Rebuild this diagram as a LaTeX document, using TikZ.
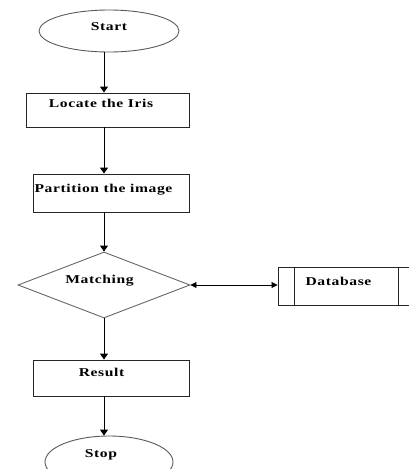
\documentclass[tikz,border=0pt]{standalone}
\usepackage{fontspec}
\setmainfont{Liberation Serif}[FakeStretch=1.3,LetterSpace=5]
\usetikzlibrary{arrows.meta,shapes.geometric}
\tikzset{
  base/.style={draw=black!85, line width=0.9pt, inner sep=0pt, font=\fontsize{12}{14}\selectfont\bfseries},
  term/.style={base, ellipse, draw=black!65},
  proc/.style={base, rectangle},
  decide/.style={base, diamond, aspect=2.6, draw=black!60},
  store/.style={base, rectangle},
  nudge/.style={execute at begin node={\hspace*{#1}}},
  flow/.style={-{Triangle[length=6pt,width=8pt]}, line width=0.9pt},
  both/.style={{Triangle[length=6pt,width=6pt]}-{Triangle[length=6pt,width=6pt]}, line width=0.8pt}
}
\begin{document}
\begin{tikzpicture}[x=1pt, y=1pt]
  \useasboundingbox (0,0) rectangle (409,-469);
  \coordinate (axis) at (104,0);

  % ---- main column ----
  \node[term, minimum width=140pt, minimum height=42pt, text height=8pt, text depth=10pt] (start) at (109,-31) {Start};
  \node[proc, minimum width=163pt, minimum height=34pt, text height=14.5pt, text depth=19.5pt, nudge=-13pt] (locate) at (107.5,-110) {Locate the Iris};
  \node[proc, minimum width=156pt, minimum height=38pt, text height=18pt, text depth=20pt, nudge=-15pt] (part) at (111,-193) {Partition the image};
  \node[decide, minimum width=172pt, minimum height=66pt, text height=8pt, text depth=12pt, nudge=-9pt] (match) at (104,-285) {Matching};
  \node[proc, minimum width=156pt, minimum height=36pt, text height=16pt, text depth=20pt, nudge=-19pt] (result) at (111,-378) {Result};
  \node[term, minimum width=128pt, minimum height=52pt, text height=8pt, text depth=18pt, nudge=-16pt] (stop) at (109,-462) {Stop};

  % ---- side store ----
  \node[store, minimum width=137pt, minimum height=38pt, text height=18pt, text depth=20pt, nudge=-16pt] (db) at (346.5,-286) {Database};
  \draw[line width=0.9pt, black!85] ([xshift=17pt]db.north west) -- ([xshift=17pt]db.south west);
  \draw[line width=0.9pt, black!85] ([xshift=-17pt]db.north east) -- ([xshift=-17pt]db.south east);

  % flows
  \draw[flow] (start.south -| axis) -- (locate.north -| axis);
  \draw[flow] (locate.south -| axis) -- (part.north -| axis);
  \draw[flow] (part.south -| axis) -- (match.north);
  \draw[flow] (match.south) -- (result.north -| axis);
  \draw[flow] (result.south -| axis) -- (stop.north -| axis);
  \draw[both] (match.east) -- (match.east -| db.west);
\end{tikzpicture}
\end{document}
